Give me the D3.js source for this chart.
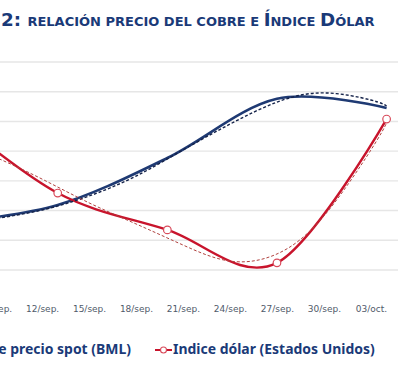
<!DOCTYPE html>
<html>
<head>
<meta charset="utf-8">
<script src="https://cdn.jsdelivr.net/npm/d3@7/dist/d3.min.js"></script>
<style>
  html, body { margin: 0; padding: 0; background: #fff; }
  svg { display: block; }
</style>
</head>
<body>
<svg id="chart" width="400" height="391"></svg>
<script>
// ---------- data (normalized index units, 0..7 = gridlines) ----------
const weekDates = ["2012-09-06", "2012-09-13", "2012-09-20", "2012-09-27", "2012-10-04"];
const copperValues = [1.58, 2.19, 3.77, 5.76, 5.45];
const dollarValues = [5.28, 2.59, 1.35, 0.24, 5.08];

const trendDates = ["2012-09-06", "2012-09-09", "2012-09-12", "2012-09-15", "2012-09-18",
                    "2012-09-21", "2012-09-24", "2012-09-27", "2012-09-30", "2012-10-03", "2012-10-04"];
const copperTrend = [1.41, 1.72, 2.02, 2.49, 3.16, 4.04, 4.91, 5.65, 5.96, 5.72, 5.52];
const dollarTrend = [4.45, 3.80, 3.06, 2.26, 1.55, 0.84, 0.30, 0.54, 1.82, 4.04, 4.95];

const tickDates = ["2012-09-09", "2012-09-12", "2012-09-15", "2012-09-18", "2012-09-21",
                   "2012-09-24", "2012-09-27", "2012-09-30", "2012-10-03"];
const tickLabels = ["09/sep.", "12/sep.", "15/sep.", "18/sep.", "21/sep.",
                    "24/sep.", "27/sep.", "30/sep.", "03/oct."];
const gridTicks = [0, 1, 2, 3, 4, 5, 6, 7];

const seriesNames = ["Cobre precio spot (BML)", "Indice dólar (Estados Unidos)"];

// ---------- setup ----------
const parse = d3.timeParse("%Y-%m-%d");
const svg = d3.select("#chart");

const x = d3.scaleTime()
  .domain([parse("2012-09-06"), parse("2012-10-04")])
  .range([-51.9, 386.6]);
const y = d3.scaleLinear().domain([0, 7]).range([270, 62]);

const BLUE = "#1f3a73";
const RED = "#c8142c";
const NAVY_TEXT = "#1a3a78";

// ---------- title ----------
const title = svg.append("text")
  .attr("x", 1).attr("y", 26)
  .attr("font-family", "DejaVu Sans, Verdana, sans-serif")
  .attr("font-weight", "bold")
  .attr("fill", NAVY_TEXT);
const parts = [["2: ", 18], ["RELACIÓN PRECIO DEL COBRE E ", 12.8], ["Í", 18], ["NDICE ", 12.8], ["D", 18], ["ÓLAR", 12.8]];
parts.forEach(p => title.append("tspan").attr("font-size", p[1]).text(p[0]));
{
  const w = title.node().getComputedTextLength();
  const k = 374 / w;
  title.selectAll("tspan").attr("font-size", (d, i) => parts[i][1] * k);
}

// ---------- gridlines ----------
svg.append("g").selectAll("line").data(gridTicks).join("line")
  .attr("x1", 0).attr("x2", 398)
  .attr("y1", d => y(d)).attr("y2", d => y(d))
  .attr("stroke", "#e6e6e6").attr("stroke-width", 1.4);

// ---------- x axis ----------
const xAxis = d3.axisBottom(x)
  .tickValues(tickDates.map(parse))
  .tickSize(0)
  .tickPadding(0)
  .tickFormat((d, i) => tickLabels[i]);
const ax = svg.append("g").attr("transform", "translate(0,306)").call(xAxis);
ax.select(".domain").remove();
ax.selectAll("text")
  .attr("font-family", "DejaVu Sans, Verdana, sans-serif")
  .attr("font-size", 9)
  .attr("fill", "#505a6a")
  .attr("dy", "0.71em");

// ---------- lines ----------
const smooth = d3.line()
  .x(d => x(d.date)).y(d => y(d.v))
  .curve(d3.curveCardinal.tension(0));
const trendLine = d3.line()
  .x(d => x(d.date)).y(d => y(d.v))
  .curve(d3.curveNatural);

const copper = weekDates.map((d, i) => ({ date: parse(d), v: copperValues[i] }));
const dollar = weekDates.map((d, i) => ({ date: parse(d), v: dollarValues[i] }));
const copperT = trendDates.map((d, i) => ({ date: parse(d), v: copperTrend[i] }));
const dollarT = trendDates.map((d, i) => ({ date: parse(d), v: dollarTrend[i] }));

svg.append("path").datum(copper).attr("d", smooth)
  .attr("fill", "none").attr("stroke", BLUE).attr("stroke-width", 2.6);
svg.append("path").datum(dollar).attr("d", smooth)
  .attr("fill", "none").attr("stroke", RED).attr("stroke-width", 2.4);

svg.append("path").datum(copperT).attr("d", trendLine)
  .attr("fill", "none").attr("stroke", "#15234a").attr("stroke-width", 1.4)
  .attr("stroke-dasharray", "3,2");
svg.append("path").datum(dollarT).attr("d", trendLine)
  .attr("fill", "none").attr("stroke", "#b0413e").attr("stroke-width", 1)
  .attr("stroke-dasharray", "3,2");

svg.append("g").selectAll("circle").data(dollar).join("circle")
  .attr("cx", d => x(d.date)).attr("cy", d => y(d.v)).attr("r", 3.8)
  .attr("fill", "#fff").attr("stroke", "#d84a5a").attr("stroke-width", 1.2);

// ---------- legend ----------
const legY = 354;
const legFont = "Noto Sans, Open Sans, sans-serif";
const leg1 = svg.append("text")
  .attr("x", 131).attr("y", legY).attr("text-anchor", "end")
  .attr("font-family", legFont)
  .attr("font-weight", "bold").attr("font-size", 11)
  .attr("fill", NAVY_TEXT).text(seriesNames[0]);
const leg2 = svg.append("text")
  .attr("x", 173).attr("y", legY)
  .attr("font-family", legFont)
  .attr("font-weight", "bold").attr("font-size", 11)
  .attr("fill", NAVY_TEXT).text(seriesNames[1]);
{
  const w = leg2.node().getComputedTextLength();
  const fs = 11 * 202 / w;
  leg1.attr("font-size", fs);
  leg2.attr("font-size", fs);
}
// blue legend sample (off-canvas on the left, as in the cropped original)
svg.append("line").attr("x1", -40).attr("x2", -22).attr("y1", legY - 4).attr("y2", legY - 4)
  .attr("stroke", BLUE).attr("stroke-width", 2.4);
svg.append("line").attr("x1", 155).attr("x2", 172).attr("y1", legY - 4).attr("y2", legY - 4)
  .attr("stroke", RED).attr("stroke-width", 2);
svg.append("circle").attr("cx", 163.5).attr("cy", legY - 4).attr("r", 3)
  .attr("fill", "#fff").attr("stroke", "#d84a5a").attr("stroke-width", 1.1);
</script>
</body>
</html>
